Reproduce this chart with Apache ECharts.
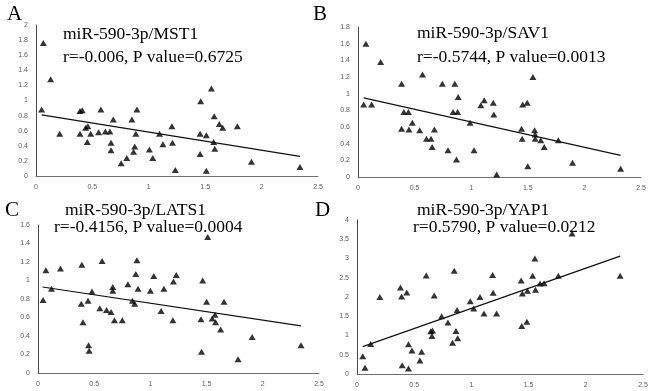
<!DOCTYPE html>
<html>
<head>
<meta charset="utf-8">
<script src="https://cdn.jsdelivr.net/npm/echarts@6/dist/echarts.min.js"></script>
<style>
  html, body { margin: 0; padding: 0; background: #fff; }
  #main { width: 650px; height: 391px; }
</style>
</head>
<body>
<div id="main"></div>
<script>
// panel A: MST1
var xA = [0.065, 0.13, 0.05, 0.21, 0.39, 0.41, 0.39, 0.44, 0.46, 0.455, 0.485, 0.555, 0.575, 0.615, 0.655, 0.665, 0.665, 0.685, 0.755, 0.805,
          0.85, 0.865, 0.875, 0.885, 0.895, 1.005, 1.035, 1.095, 1.125, 1.205, 1.21, 1.235, 1.455, 1.455, 1.46, 1.51, 1.51, 1.555, 1.575, 1.58,
          1.585, 1.625, 1.655, 1.785, 1.91, 2.34];
var yA = [1.76, 1.28, 0.88, 0.56, 0.86, 0.87, 0.56, 0.64, 0.66, 0.45, 0.56, 0.58, 0.88, 0.59, 0.59, 0.44, 0.34, 0.75, 0.17, 0.24,
          0.75, 0.32, 0.39, 0.56, 0.88, 0.35, 0.24, 0.56, 0.42, 0.66, 0.44, 0.08, 0.56, 0.29, 0.99, 0.54, 0.07, 1.16, 0.45, 0.79,
          0.36, 0.69, 0.64, 0.66, 0.19, 0.12];
var trendA = [[0.05, 0.81], [2.34, 0.26]];

// panel B: SAV1
var xB = [0.05, 0.07, 0.12, 0.2, 0.385, 0.385, 0.405, 0.445, 0.45, 0.48, 0.545, 0.57, 0.605, 0.645, 0.655, 0.675, 0.745, 0.795, 0.84, 0.855,
          0.87, 0.88, 0.885, 0.99, 1.025, 1.085, 1.115, 1.195, 1.2, 1.225, 1.445, 1.45, 1.455, 1.495, 1.5, 1.545, 1.56, 1.565, 1.565, 1.615,
          1.645, 1.77, 1.895, 2.32];
var yB = [0.87, 1.60, 0.87, 1.38, 1.12, 0.58, 0.78, 0.78, 0.57, 0.65, 0.56, 1.23, 0.46, 0.46, 0.36, 0.57, 1.12, 0.32, 0.78, 1.12,
          0.21, 0.78, 0.96, 0.65, 0.32, 0.86, 0.92, 0.89, 0.75, 0.03, 0.58, 0.46, 0.87, 0.89, 0.13, 1.20, 0.56, 0.51, 0.46, 0.44,
          0.36, 0.44, 0.17, 0.10];
var trendB = [[0.05, 0.95], [2.32, 0.26]];

// panel C: LATS1
var xC = [0.045, 0.07, 0.12, 0.2, 0.39, 0.385, 0.4, 0.445, 0.45, 0.455, 0.48, 0.55, 0.57, 0.61, 0.65, 0.665, 0.665, 0.68, 0.75, 0.8,
          0.84, 0.86, 0.87, 0.88, 0.89, 1.0, 1.03, 1.095, 1.12, 1.2, 1.205, 1.23, 1.45, 1.455, 1.465, 1.5, 1.51, 1.55, 1.575, 1.58,
          1.625, 1.655, 1.78, 1.905, 2.34];
var yC = [0.79, 1.11, 0.91, 1.13, 1.17, 0.75, 0.55, 0.78, 0.30, 0.24, 0.88, 0.70, 1.21, 0.68, 0.66, 0.93, 0.89, 0.57, 0.57, 0.96,
          0.78, 0.75, 1.07, 1.22, 0.91, 0.89, 1.05, 0.67, 0.91, 0.57, 0.99, 1.06, 0.58, 0.23, 1.00, 0.77, 1.47, 0.59, 0.63, 0.55,
          0.47, 0.77, 0.15, 0.39, 0.30];
var trendC = [[0.04, 0.93], [2.34, 0.51]];

// panel D: YAP1
var xD = [0.05, 0.07, 0.12, 0.2, 0.38, 0.39, 0.395, 0.435, 0.45, 0.45, 0.48, 0.55, 0.565, 0.605, 0.645, 0.655, 0.66, 0.675, 0.74, 0.795,
          0.835, 0.85, 0.865, 0.875, 0.88, 0.99, 1.02, 1.075, 1.11, 1.185, 1.19, 1.22, 1.435, 1.44, 1.445, 1.485, 1.49, 1.535, 1.555, 1.56,
          1.6, 1.635, 1.76, 1.88, 2.3];
var yD = [0.46, 0.16, 0.78, 2.00, 2.25, 2.01, 0.23, 2.12, 0.77, 0.14, 0.61, 0.35, 0.58, 2.56, 1.11, 0.99, 1.13, 2.04, 1.50, 1.34,
          0.81, 2.68, 1.12, 1.66, 0.93, 1.89, 1.70, 2.00, 1.57, 2.57, 2.11, 1.57, 2.43, 1.25, 2.09, 1.36, 2.16, 2.55, 3.00, 2.19,
          2.35, 2.36, 2.55, 3.65, 2.55];
var trendD = [[0.05, 0.71], [2.3, 3.06]];

var yMax = [2, 1.8, 1.6, 4];
var yStep = [0.2, 0.2, 0.2, 0.5];
var titles = ['miR-590-3p/MST1', 'miR-590-3p/SAV1', 'miR-590-3p/LATS1', 'miR-590-3p/YAP1'];
var stats = ['r=-0.006, P value=0.6725', 'r=-0.5744, P value=0.0013', 'r=-0.4156, P value=0.0004', 'r=0.5790, P value=0.0212'];
var letters = ['A', 'B', 'C', 'D'];

function pairs(xs, ys) {
    return xs.map(function (x, i) { return [x, ys[i]]; });
}

var chart = echarts.init(document.getElementById('main'));

// plot boxes of the four panels
var boxes = [
    { left: 36, top: 25, width: 282, height: 151 },
    { left: 358, top: 27, width: 283, height: 150 },
    { left: 38, top: 225, width: 281, height: 148 },
    { left: 357, top: 220, width: 286, height: 154 }
];
// text positions: [title x, title y, stats x, stats y, letter x, letter y]
var textPos = [
    [63, 34, 63, 57, 7, 14],
    [417, 33, 417, 57, 313, 14],
    [65, 210, 54, 227, 5, 210],
    [417, 210, 413, 227, 315, 210]
];

var pts = [pairs(xA, yA), pairs(xB, yB), pairs(xC, yC), pairs(xD, yD)];
var trends = [trendA, trendB, trendC, trendD];

var grid = [], xAxis = [], yAxis = [], series = [], graphic = [];
for (var i = 0; i < 4; i++) {
    grid.push({
        left: boxes[i].left, top: boxes[i].top, width: boxes[i].width, height: boxes[i].height,
        containLabel: false, outerBoundsMode: 'none'
    });
    xAxis.push({
        gridIndex: i, type: 'value', min: 0, max: 2.5, interval: 0.5,
        splitLine: { show: false },
        axisTick: { show: false },
        axisLine: { lineStyle: { color: '#6e6e6e', width: 1 } },
        axisLabel: { color: '#5a5a5a', fontSize: 7, fontFamily: 'Liberation Sans', margin: 8 }
    });
    yAxis.push({
        gridIndex: i, type: 'value', min: 0, max: yMax[i], interval: yStep[i],
        splitLine: { show: false },
        axisTick: { show: false },
        axisLine: { show: true, lineStyle: { color: '#4a4a4a', width: 1 } },
        axisLabel: { color: '#5a5a5a', fontSize: 7, fontFamily: 'Liberation Sans', margin: 8 }
    });
    series.push({
        type: 'scatter', xAxisIndex: i, yAxisIndex: i,
        symbol: 'triangle', symbolSize: [7, 6],
        itemStyle: { color: '#000' },
        data: pts[i]
    });
    series.push({
        type: 'line', xAxisIndex: i, yAxisIndex: i,
        symbol: 'none', silent: true,
        lineStyle: { color: '#111', width: 1.2 },
        data: trends[i]
    });
    var p = textPos[i];
    graphic.push({
        type: 'text', x: p[0], y: p[1],
        style: { text: titles[i], fill: '#000', font: '17.5px "Liberation Serif"', verticalAlign: 'middle' }
    });
    graphic.push({
        type: 'text', x: p[2], y: p[3],
        style: { text: stats[i], fill: '#000', font: '17.5px "Liberation Serif"', verticalAlign: 'middle' }
    });
    graphic.push({
        type: 'text', x: p[4], y: p[5],
        style: { text: letters[i], fill: '#000', font: '21px "Liberation Serif"', verticalAlign: 'middle' }
    });
}

chart.setOption({
    backgroundColor: '#fff',
    animation: false,
    grid: grid,
    xAxis: xAxis,
    yAxis: yAxis,
    series: series,
    graphic: graphic
});
</script>
</body>
</html>
